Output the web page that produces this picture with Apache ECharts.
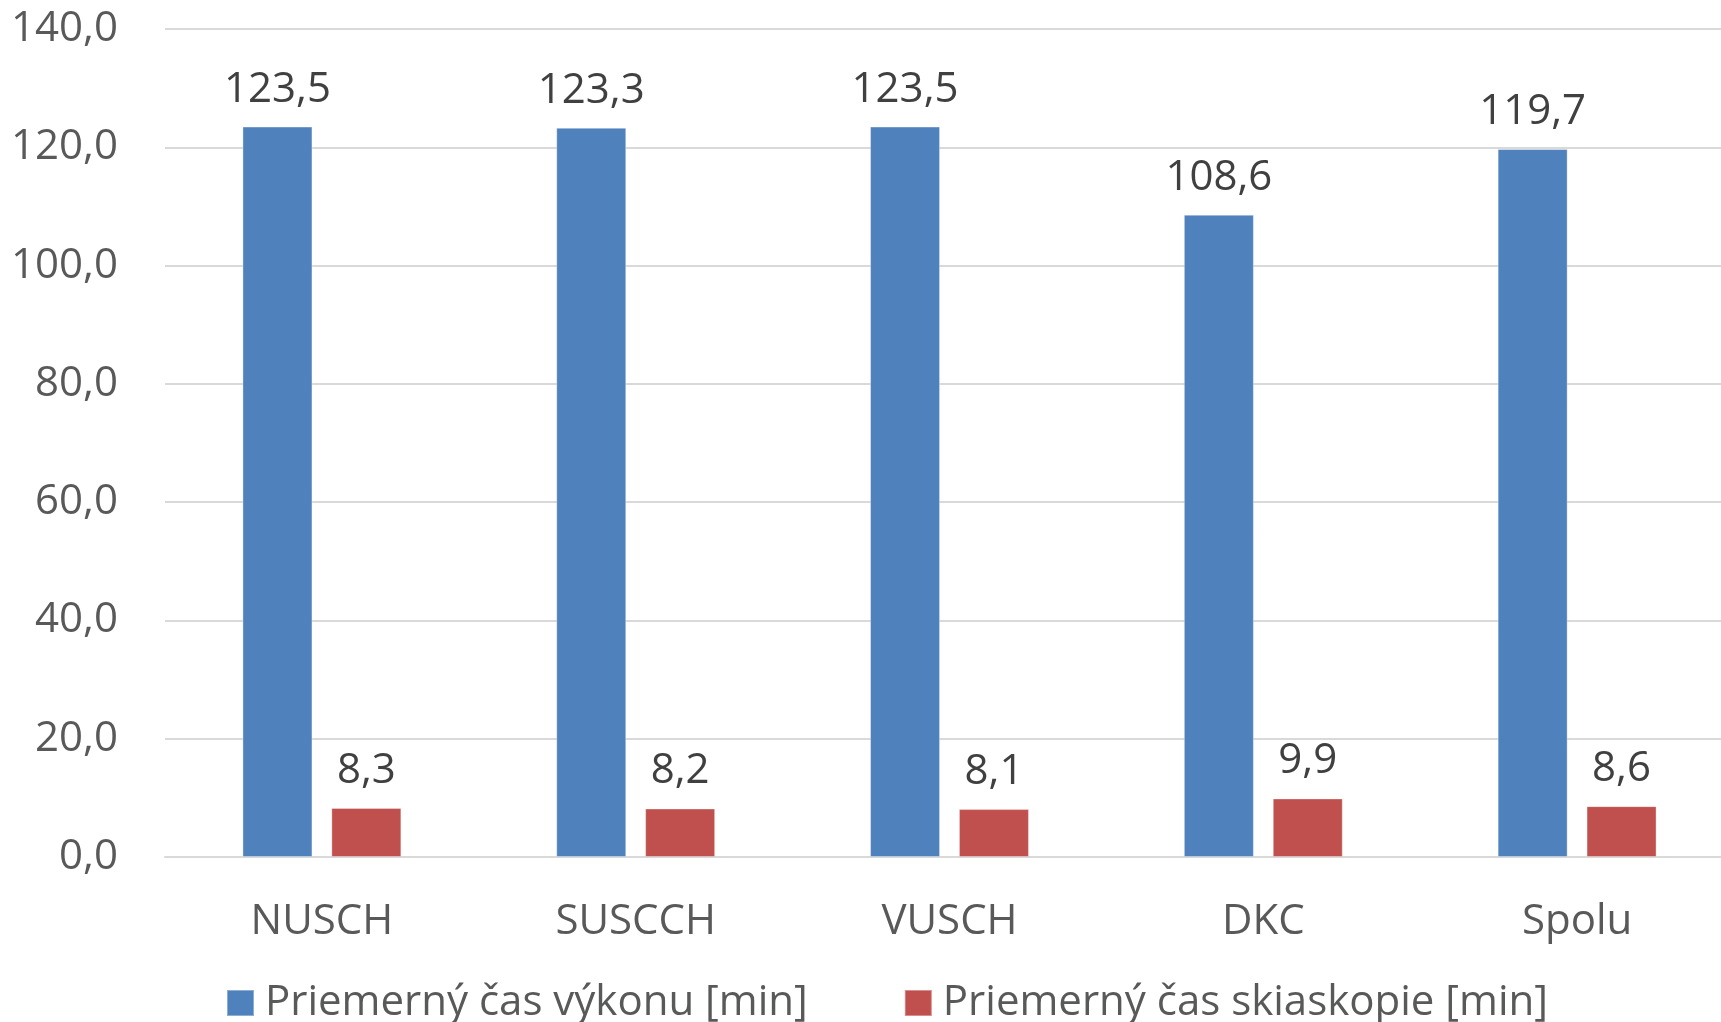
<!DOCTYPE html>
<html>
<head>
<meta charset="utf-8">
<script src="https://cdn.jsdelivr.net/npm/echarts@6/dist/echarts.min.js"></script>
<style>
  html, body { margin: 0; padding: 0; background: #fff; overflow: hidden; }
  /* the original chart runs a little past the right edge of the picture */
  #chart { width: 1734px; height: 1022px; }
</style>
</head>
<body>
<div id="chart"></div>
<script>
// Average procedure time vs. fluoroscopy time per department.
const categories = ["NUSCH", "SUSCCH", "VUSCH", "DKC", "Spolu"];
const seriesNames = ["Priemerný čas výkonu [min]", "Priemerný čas skiaskopie [min]"];
const procedureTime = [123.5, 123.3, 123.5, 108.6, 119.7];
const fluoroscopyTime = [8.3, 8.2, 8.1, 9.9, 8.6];
const yTicks = { min: 0, max: 140, interval: 20 };

const FONT = "Open Sans";
const SIZE = 42;
const fmt = (v) => Number(v).toFixed(1).replace(".", ",");

const chart = echarts.init(document.getElementById("chart"));

function barSeries(name, data, color) {
  return {
    name,
    type: "bar",
    data,
    barWidth: 70,
    barGap: "27%",
    itemStyle: { color, borderColor: "rgba(255,255,255,0.35)", borderWidth: 1 },
    label: {
      show: true,
      position: "top",
      distance: 16,
      formatter: (p) => fmt(p.value),
      color: "#404040",
      fontFamily: FONT,
      fontSize: SIZE,
    },
  };
}

chart.setOption({
  animation: false,
  backgroundColor: "#ffffff",
  grid: { left: 165, top: 29, right: 0, bottom: 165, containLabel: false },
  legend: {
    data: seriesNames,
    left: 221,
    top: 977,
    itemWidth: 27,
    itemHeight: 26,
    itemGap: 96,
    icon: "rect",
    textStyle: { color: "#595959", fontFamily: FONT, fontSize: SIZE, padding: [0, 0, 0, 6] },
  },
  xAxis: {
    type: "category",
    data: categories,
    axisLine: { lineStyle: { color: "#D9D9D9", width: 2 } },
    axisTick: { show: false },
    axisLabel: { color: "#595959", fontFamily: FONT, fontSize: SIZE, margin: 44 },
  },
  yAxis: {
    type: "value",
    min: yTicks.min,
    max: yTicks.max,
    interval: yTicks.interval,
    axisLine: { show: false },
    axisTick: { show: false },
    splitLine: { lineStyle: { color: "#D9D9D9", width: 2 } },
    axisLabel: {
      color: "#595959",
      fontFamily: FONT,
      fontSize: SIZE,
      margin: 47,
      padding: [6, 0, 0, 0],
      formatter: fmt,
    },
  },
  series: [
    barSeries(seriesNames[0], procedureTime, "#4F81BD"),
    barSeries(seriesNames[1], fluoroscopyTime, "#C0504D"),
  ],
});
</script>
</body>
</html>
